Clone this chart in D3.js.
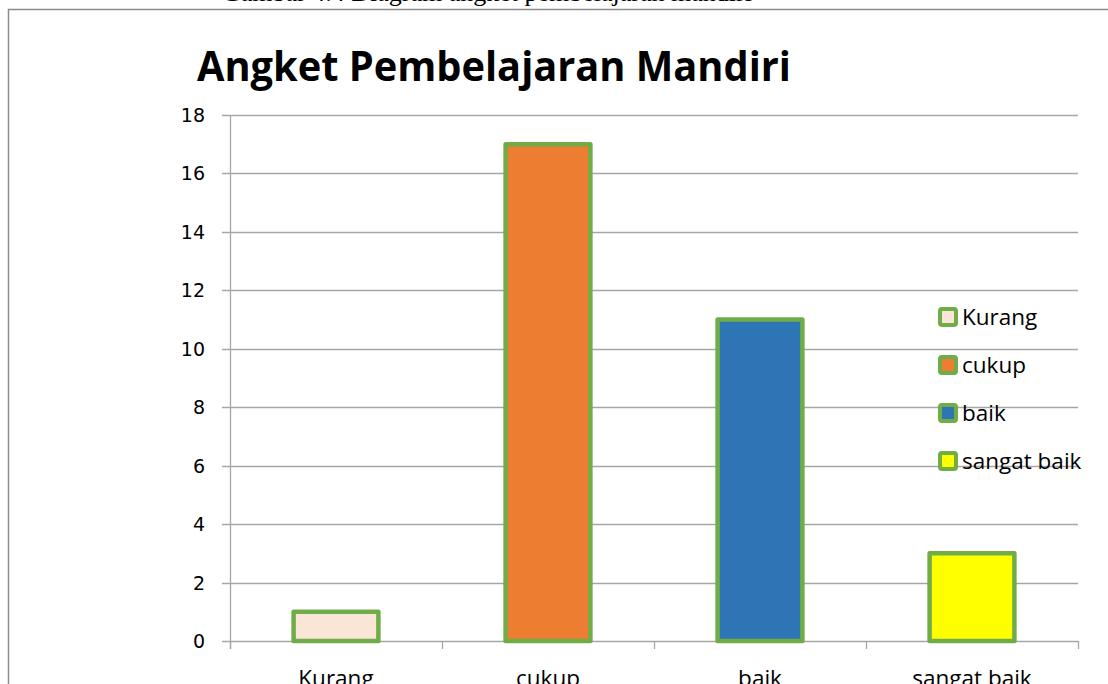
<!DOCTYPE html>
<html>
<head>
<meta charset="utf-8">
<script src="https://cdn.jsdelivr.net/npm/d3@7"></script>
<style>
  html, body { margin: 0; padding: 0; background: #fff; overflow: hidden; }
  svg { display: block; }
</style>
</head>
<body>
<div id="chart"></div>
<script>
const categories = ["Kurang", "cukup", "baik", "sangat baik"];
const values = [1, 17, 11, 3];
const fills = ["#FBE5D6", "#ED7D31", "#2E75B6", "#FFFF00"];
const yTicks = [0, 2, 4, 6, 8, 10, 12, 14, 16, 18];

const W = 1108, H = 684;
const svg = d3.select("#chart").append("svg")
  .attr("width", W)
  .attr("height", H);

// caption above the frame, cut off at the top (as in the source page)
svg.append("text")
  .attr("x", 222)
  .attr("y", 1)
  .attr("font-family", "Liberation Serif")
  .attr("font-size", 26)
  .attr("fill", "#000")
  .text("Gambar 4.4 Diagram angket pembelajaran mandiri");

// chart frame
svg.append("rect")
  .attr("x", 8.5).attr("y", 9.5)
  .attr("width", 1120).attr("height", 700)
  .attr("fill", "none")
  .attr("stroke", "#8c8c8c")
  .attr("stroke-width", 1.5);

svg.append("text")
  .attr("x", 197)
  .attr("y", 81)
  .attr("font-family", "Open Sans")
  .attr("font-weight", "bold")
  .attr("font-size", 42)
  .attr("textLength", 594)
  .attr("lengthAdjust", "spacingAndGlyphs")
  .attr("fill", "#000")
  .text("Angket Pembelajaran Mandiri");

const plotLeft = 230, plotRight = 1078, plotTop = 115, plotBottom = 641;

const x = d3.scaleBand()
  .domain(categories)
  .range([plotLeft, plotRight])
  .paddingInner(0.6)
  .paddingOuter(0.3);

const xb = d3.scaleBand().domain(categories).range([plotLeft, plotRight]);

const y = d3.scaleLinear()
  .domain([0, 18])
  .range([plotBottom, plotTop]);

// gridlines
svg.append("g")
  .selectAll("line")
  .data(yTicks)
  .join("line")
  .attr("x1", plotLeft - 8)
  .attr("x2", plotRight)
  .attr("y1", d => Math.round(y(d)) + 0.5)
  .attr("y2", d => Math.round(y(d)) + 0.5)
  .attr("stroke", "#a6a6a6")
  .attr("stroke-width", 1.3);

// y axis line
svg.append("line")
  .attr("x1", plotLeft + 0.5).attr("x2", plotLeft + 0.5)
  .attr("y1", plotTop).attr("y2", plotBottom + 8)
  .attr("stroke", "#a6a6a6")
  .attr("stroke-width", 1.3);

// x axis ticks at band boundaries
const xTickPos = categories.map(c => xb(c)).concat([plotRight]);
svg.append("g")
  .selectAll("line")
  .data(xTickPos)
  .join("line")
  .attr("x1", d => Math.round(d) + 0.5)
  .attr("x2", d => Math.round(d) + 0.5)
  .attr("y1", plotBottom)
  .attr("y2", plotBottom + 8)
  .attr("stroke", "#a6a6a6")
  .attr("stroke-width", 1.3);

// y tick labels
svg.append("g")
  .selectAll("text")
  .data(yTicks)
  .join("text")
  .attr("x", 205)
  .attr("y", d => y(d) + 7)
  .attr("text-anchor", "end")
  .attr("font-family", "DejaVu Sans")
  .attr("font-size", 19)
  .attr("fill", "#000")
  .text(d => d);

// bars
svg.append("g")
  .selectAll("rect")
  .data(categories)
  .join("rect")
  .attr("x", d => x(d))
  .attr("y", (d, i) => y(values[i]))
  .attr("width", x.bandwidth())
  .attr("height", (d, i) => y(0) - y(values[i]))
  .attr("fill", (d, i) => fills[i])
  .attr("stroke", "#70AD47")
  .attr("stroke-width", 4.5)
  .attr("stroke-linejoin", "round");

// x labels
svg.append("g")
  .selectAll("text")
  .data(categories)
  .join("text")
  .attr("x", d => xb(d) + xb.bandwidth() / 2)
  .attr("y", 686)
  .attr("text-anchor", "middle")
  .attr("font-family", "Open Sans")
  .attr("font-size", 22.5)
  .attr("fill", "#000")
  .text(d => d);

// legend
const legend = svg.append("g")
  .selectAll("g")
  .data(categories)
  .join("g")
  .attr("transform", (d, i) => `translate(940, ${317 + i * 48})`);

legend.append("rect")
  .attr("x", 0).attr("y", -8)
  .attr("width", 16).attr("height", 16)
  .attr("rx", 2)
  .attr("fill", (d, i) => fills[i])
  .attr("stroke", "#70AD47")
  .attr("stroke-width", 4);

legend.append("text")
  .attr("x", 22)
  .attr("y", 8)
  .attr("font-family", "Open Sans")
  .attr("font-size", 22.5)
  .attr("fill", "#000")
  .text(d => d);
</script>
</body>
</html>
